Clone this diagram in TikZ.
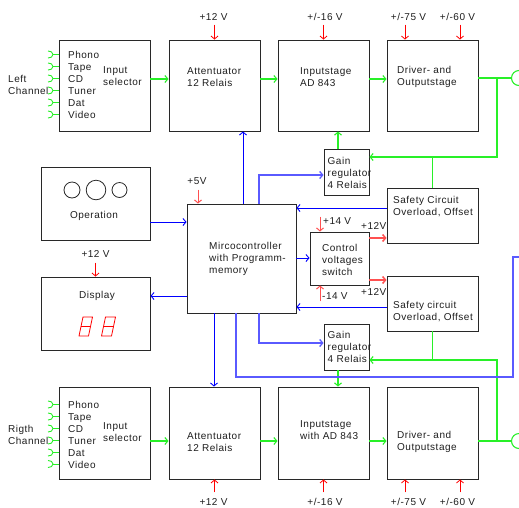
\documentclass[tikz,border=0pt]{standalone}
\usepackage{fontspec}
\usetikzlibrary{arrows.meta,calc}
\newfontfamily\labf{Liberation Sans}[LetterSpace=5]
\definecolor{gc}{RGB}{40,240,40}
\definecolor{bc}{RGB}{0,0,255}
\definecolor{blc}{RGB}{90,90,255}
\definecolor{rc}{RGB}{255,0,0}
\definecolor{rlc}{RGB}{255,80,80}
\definecolor{boxc}{RGB}{40,40,40}
\definecolor{txtc}{RGB}{30,30,30}
\tikzset{
  bx/.style={draw=boxc, line width=0.9pt, inner sep=0pt},
  t/.style={font=\labf\fontsize{10}{12}\selectfont, inner sep=0pt, align=left, anchor=west, text=txtc},
  tc/.style={t, anchor=center, align=center},
  tip/.style={-{Straight Barb[length=3pt,width=7pt]}},
  gline/.style={draw=gc, line width=1.1pt},
  garr/.style={gline, tip},
  barr/.style={draw=bc, line width=0.9pt, tip},
  bline/.style={draw=blc, line width=1.3pt},
  barrL/.style={bline, tip},
  rarr/.style={draw=rc, line width=0.8pt, tip},
  rarrL/.style={draw=rlc, line width=1pt, tip},
  rarrT/.style={draw=rlc, line width=1.5pt, tip},
  seg/.style={draw=rc, line width=0.8pt},
}
\begin{document}
\begin{tikzpicture}[x=1pt,y=-1pt]
\useasboundingbox (0,0) rectangle (519,507);
% ---- boxes ----
\node[bx, minimum width=91pt, minimum height=91pt] (selL) at (104.5,85.5) {};
\node[bx, minimum width=91pt, minimum height=91pt] (attL) at (214.5,85.5) {};
\node[bx, minimum width=91pt, minimum height=91pt] (inL) at (323.5,85.5) {};
\node[bx, minimum width=91pt, minimum height=91pt] (drvL) at (432.5,85.5) {};
\node[bx, minimum width=45pt, minimum height=46pt] (gainL) at (346.5,172) {};
\node[bx, minimum width=91pt, minimum height=55pt] (safeL) at (432.5,215.5) {};
\node[bx, minimum width=59pt, minimum height=53pt] (ctrl) at (339.5,258.5) {};
\node[bx, minimum width=109pt, minimum height=109pt] (mc) at (241.5,258.5) {};
\node[bx, minimum width=109pt, minimum height=73pt] (op) at (95.5,203.5) {};
\node[bx, minimum width=109pt, minimum height=73pt] (disp) at (95.5,313.5) {};
\node[bx, minimum width=91pt, minimum height=55pt] (safeR) at (432.5,303.5) {};
\node[bx, minimum width=45pt, minimum height=46pt] (gainR) at (346.5,347) {};
\node[bx, minimum width=91pt, minimum height=92pt] (selR) at (104.5,433) {};
\node[bx, minimum width=91pt, minimum height=92pt] (attR) at (214.5,433) {};
\node[bx, minimum width=91pt, minimum height=92pt] (inR) at (323.5,433) {};
\node[bx, minimum width=91pt, minimum height=92pt] (drvR) at (432.5,433) {};
% ---- texts ----
\node[t] (tInL) at (68,84.5) {Phono\\Tape\\CD\\Tuner\\Dat\\Video};
\node[t] (tSelL) at (103,76) {Input\\selector};
\node[t] (tChL) at (8,85) {Left\\Channel};
\node[t] (tAttL) at (187,77) {Attentuator\\12 Relais};
\node[t] (tInpL) at (300,77) {Inputstage\\AD 843};
\node[t] (tDrvL) at (397,77) {Driver- and\\Outputstage};
\node[t] (tGainL) at (327.5,173) {Gain\\regulator\\4 Relais};
\node[t] (tSafeL) at (393,206.5) {Safety Circuit\\Overload, Offset};
\node[t] (tCtrl) at (322,259.5) {Control\\voltages\\switch};
\node[t] (tMc) at (209,259) {Mircocontroller\\with Programm-\\memory};
\node[tc] (tOp) at (94,216) {Operation};
\node[tc] (tDisp) at (97,296) {Display};
\node[t] (tSafeR) at (393,312) {Safety circuit\\Overload, Offset};
\node[t] (tGainR) at (327.5,347) {Gain\\regulator\\4 Relais};
\node[t] (tInR) at (68,434.5) {Phono\\Tape\\CD\\Tuner\\Dat\\Video};
\node[t] (tSelR) at (103,432) {Input\\selector};
\node[t] (tChR) at (8,435) {Rigth\\Channel};
\node[t] (tAttR) at (187,442) {Attentuator\\12 Relais};
\node[t] (tInpR) at (300,430) {Inputstage\\with AD 843};
\node[t] (tDrvR) at (397,442) {Driver- and\\Outputstage};
% voltage labels
\node[tc] (v1) at (213.5,17) {+12 V};
\node[tc] (v2) at (325,17) {+/-16 V};
\node[tc] (v3) at (408.5,17) {+/-75 V};
\node[tc] (v4) at (457.5,17) {+/-60 V};
\node[tc] (v5) at (213.5,502) {+12 V};
\node[tc] (v6) at (325,502) {+/-16 V};
\node[tc] (v7) at (408.5,502) {+/-75 V};
\node[tc] (v8) at (457.5,502) {+/-60 V};
\node[tc] (v9) at (197,181) {+5V};
\node[tc] (v10) at (95.5,254) {+12 V};
\node[t] (v11) at (323,221) {+14 V};
\node[t] (v12) at (322,296) {-14 V};
\node[t] (v13) at (361,226) {+12V};
\node[t] (v14) at (361,292) {+12V};
% ---- operation knobs ----
\draw[boxc, line width=0.8pt] (72,190) circle[radius=8];
\draw[boxc, line width=0.8pt] (96,190) circle[radius=9.8];
\draw[boxc, line width=0.8pt] (119.5,190) circle[radius=7.5];
% ---- seven segment digits ----
\draw[seg] (83,317) -- (92.5,317) -- (88.5,336) -- (79,336) -- cycle (81,326.5) -- (90.5,326.5);
\draw[seg] (105.5,317) -- (115.5,317) -- (111.5,336) -- (101.5,336) -- cycle (103.5,326.5) -- (113.5,326.5);
% ---- input jacks ----
\foreach \yy in {54.5,66.5,78.5,90.5,102.5,114.5,404.5,416.5,428.5,440.5,452.5,464}{
  \coordinate (jk) at (53,\yy);
  \draw[gline, line width=0.9pt] ($(jk)+(-5,-3.5)$) to[out=0,in=90] (jk) to[out=-90,in=0] ($(jk)+(-5,3.5)$);
  \draw[gline, line width=0.9pt] (jk) -- (selL.west |- jk);
}
% ---- green signal path top ----
\coordinate (yT) at (0,79);
\draw[garr] (selL.east |- yT) -- (attL.west |- yT);
\draw[garr] (attL.east |- yT) -- (inL.west |- yT);
\draw[garr] (inL.east |- yT) -- (drvL.west |- yT);
\coordinate (outL) at (519,78);
\coordinate (jL) at (497,78);
\coordinate (yG) at (0,157);
\coordinate (gx) at (338,0);
\draw[gline] (drvL.east |- outL) -- ($(outL)+(-7.5,0)$);
\draw[gline] (outL) circle[radius=7.5];
\draw[garr] (jL) |- (gainL.east |- yG);
\draw[gline] (safeL.north) -- (safeL.north |- yG);
\draw[garr] (gainL.north -| gx) -- (inL.south -| gx);
% ---- green signal path bottom ----
\coordinate (yB) at (0,441);
\draw[garr] (selR.east |- yB) -- (attR.west |- yB);
\draw[garr] (attR.east |- yB) -- (inR.west |- yB);
\draw[garr] (inR.east |- yB) -- (drvR.west |- yB);
\coordinate (outR) at (519,441);
\coordinate (jR) at (497,441);
\coordinate (yH) at (0,360);
\draw[gline] (drvR.east |- outR) -- ($(outR)+(-7.5,0)$);
\draw[gline] (outR) circle[radius=7.5];
\draw[gline] (jR) |- (safeR.south |- yH);
\draw[garr] (safeR.south) |- (gainR.east |- yH);
\draw[garr] (gainR.south -| gx) -- (inR.north -| gx);
% ---- blue control lines ----
\coordinate (b1) at (243,0);
\draw[barr] (mc.north -| b1) -- (attL.south -| b1);
\coordinate (b2) at (259,175);
\draw[barrL] (mc.north -| b2) |- (gainL.west |- b2);
\coordinate (b3) at (0,208);
\draw[barr] (safeL.west |- b3) -- (mc.east |- b3);
\coordinate (b4) at (0,258);
\draw[barr] (mc.east |- b4) -- (ctrl.west |- b4);
\coordinate (b5) at (0,307);
\draw[barr] (safeR.west |- b5) -- (mc.east |- b5);
\coordinate (b6) at (259,343);
\draw[barrL] (mc.south -| b6) |- (gainR.west |- b6);
\coordinate (b7) at (214,0);
\draw[barr] (mc.south -| b7) -- (attR.north -| b7);
\coordinate (b8) at (236,377);
\coordinate (b8e) at (513,257);
\draw[bline] (mc.south -| b8) -- (b8) -| (b8e) -- ++(8,0);
\coordinate (b9) at (0,222);
\draw[barr] (op.east |- b9) -- (mc.west |- b9);
\coordinate (b10) at (0,296);
\draw[barr] (mc.west |- b10) -- (disp.east |- b10);
% ---- red supply arrows ----
\draw[rarr] (attL.north) +(0,-15) -- (attL.north);
\draw[rarr] (inL.north) +(0,-15) -- (inL.north);
\draw[rarr] ($(drvL.north)+(-27.5,-15)$) -- ($(drvL.north)+(-27.5,0)$);
\draw[rarr] ($(drvL.north)+(27.5,-15)$) -- ($(drvL.north)+(27.5,0)$);
\draw[rarr] (attR.south) +(0,13) -- (attR.south);
\draw[rarr] (inR.south) +(0,13) -- (inR.south);
\draw[rarr] ($(drvR.south)+(-27.5,13)$) -- ($(drvR.south)+(-27.5,0)$);
\draw[rarr] ($(drvR.south)+(27.5,13)$) -- ($(drvR.south)+(27.5,0)$);
\draw[rarr] (disp.north) +(0,-14) -- (disp.north);
\draw[rarrL] ($(mc.north)+(-43.5,-14)$) -- ($(mc.north)+(-43.5,0)$);
\draw[rarrL] ($(ctrl.north)+(-19.5,-15)$) -- ($(ctrl.north)+(-19.5,0)$);
\draw[rarrL] ($(ctrl.south)+(-19.5,16)$) -- ($(ctrl.south)+(-19.5,0)$);
\coordinate (r1) at (0,238);
\coordinate (r2) at (0,280);
\draw[rarrT] (ctrl.east |- r1) -- (safeL.west |- r1);
\draw[rarrT] (ctrl.east |- r2) -- (safeR.west |- r2);
\end{tikzpicture}
\end{document}
